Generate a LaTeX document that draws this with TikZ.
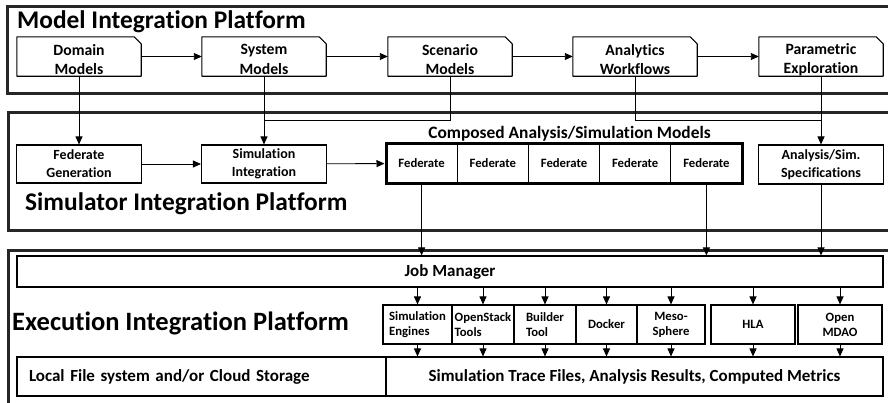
\documentclass[tikz,border=0pt]{standalone}
\usepackage{fontspec}
\setmainfont{Carlito}[Ligatures=NoCommon]
\usetikzlibrary{arrows.meta}
\begin{document}
\begin{tikzpicture}[x=1pt,y=-1pt,
  platform/.style={draw=black!85, line width=3pt, anchor=north west, inner sep=0pt},
  title/.style={font=\bfseries\fontsize{25.4}{28}\selectfont, inner sep=0pt, anchor=base west},
  mbox/.style={minimum width=124pt, minimum height=39pt, inner sep=0pt},
  mtext/.style={inner sep=0pt, align=center, font=\bfseries\fontsize{15.7}{19.5}\selectfont},
  sbox/.style={draw, line width=1.1pt, minimum width=125pt, minimum height=38pt, inner sep=1pt,
    align=center, font=\bfseries\fontsize{14}{18}\selectfont},
  cell/.style={draw, line width=1pt, minimum width=71.2pt, minimum height=40pt, inner sep=1pt,
    font=\bfseries\fontsize{12.7}{15}\selectfont},
  tool/.style={draw, line width=1.1pt, minimum height=39pt, inner sep=1pt,
    font=\bfseries\fontsize{12.7}{15}\selectfont},
  wide/.style={draw, line width=1.1pt, inner sep=1pt, font=\bfseries\fontsize{17}{19}\selectfont},
  conn/.style={line width=0.9pt},
  arr/.style={conn, -{Triangle[length=8pt,width=7pt]}}
]
\useasboundingbox (0,0) rectangle (888,402);
\clip (0,0) rectangle (888,402);

% platforms
\node[platform, minimum width=900pt, minimum height=87pt] (mip) at (6,5) {};
\node[platform, minimum width=900pt, minimum height=118pt] (sip) at (7,111) {};
\node[platform, minimum width=900pt, minimum height=171pt] (eip) at (7,249) {};

\node[title] (mipt) at (17,28) {Model Integration Platform};
\node[title] (sipt) at (25,210) {Simulator Integration Platform};
\node[title, font=\bfseries\fontsize{26.5}{28}\selectfont] (eipt) at (12,330) {Execution Integration Platform};

% model boxes
\node[mbox] (dom) at (79,56.5) {};
\node[mbox] (sys) at (264,56.5) {};
\node[mbox] (scn) at (450,56.5) {};
\node[mbox] (ana) at (635,56.5) {};
\node[mbox] (par) at (821,56.5) {};
\foreach \n in {dom,sys,scn,ana,par}
  \draw[line width=1.1pt, line join=round] (\n.north west) -- ([xshift=-7pt]\n.north east)
    -- ([yshift=-7pt]\n.north east) -- (\n.south east) -- (\n.south west) -- cycle;
\node[mtext] (domt) at ([yshift=-3pt]dom.center) {Domain\\Models};
\node[mtext] (syst) at ([yshift=-3pt]sys.center) {System\\Models};
\node[mtext] (scnt) at ([yshift=-3pt]scn.center) {Scenario\\Models};
\node[mtext] (anat) at ([yshift=-3pt]ana.center) {Analytics\\Workflows};
\node[mtext] (part) at ([yshift=-3pt]par.center) {Parametric\\Exploration};

\draw[arr] (dom) -- (sys);
\draw[arr] (sys) -- (scn);
\draw[arr] (scn) -- (ana);
\draw[arr] (ana) -- (par);

% simulator
\node[sbox] (fedgen) at (79,164) {Federate\\Generation};
\node[sbox] (simint) at (264,164) {Simulation\\Integration};
\node[sbox, minimum height=39pt] (spec) at (821,164.5) {Analysis/Sim.\\Specifications};

\node[cell] (f1) at (421.6,163) {Federate};
\node[cell] (f2) at (492.8,163) {Federate};
\node[cell] (f3) at (564,163) {Federate};
\node[cell] (f4) at (635.2,163) {Federate};
\node[cell] (f5) at (706.4,163) {Federate};
\node[draw, line width=3pt, minimum width=356pt, minimum height=40pt, inner sep=0pt] (comp) at (564,163) {};
\node[font=\bfseries\fontsize{17.4}{18}\selectfont, inner sep=0pt, anchor=base] (compl) at (569.5,138) {Composed Analysis/Simulation Models};

\coordinate (j1) at (264,120);
\coordinate (j2) at (821,120);
\draw[arr] (dom.south) -- (fedgen.north);
\draw[arr] (sys.south) -- (simint.north);
\draw[conn] (scn.south) |- (j1);
\draw[conn] (ana.south) |- (j2);
\draw[arr] (par.south) -- (spec.north);
\draw[arr] (fedgen) -- (simint);
\draw[arr] (simint) -- (comp);

% execution
\node[wide, minimum width=866pt, minimum height=31pt] (jm) at (450,271.5) {Job Manager};
\node[tool, minimum width=69pt, align=left] (seng) at (417.5,324.5) {Simulation\\Engines};
\node[tool, minimum width=62pt, align=left] (ostk) at (483,324.5) {OpenStack\\Tools};
\node[tool, minimum width=62pt, align=left] (bldr) at (545,324.5) {Builder\\Tool};
\node[tool, minimum width=61pt] (dock) at (606.5,324.5) {Docker};
\node[tool, minimum width=68pt, align=center] (meso) at (671,324.5) {Meso-\\Sphere};
\node[tool, minimum width=84pt] (hla) at (753,324.5) {HLA};
\node[tool, minimum width=84pt, align=center] (mdao) at (840,324.5) {Open\\MDAO};
\node[wide, minimum width=369pt, minimum height=39pt, text width=345pt, inner xsep=12pt, align=left] (local) at (201.5,376.5) {Local File system and/or Cloud Storage};
\node[wide, minimum width=497pt, minimum height=39pt] (trace) at (634.5,376.5) {Simulation Trace Files, Analysis Results, Computed Metrics};

\draw[arr] (f1.south) -- (f1.south |- jm.north);
\draw[arr] (f5.south) -- (f5.south |- jm.north);
\draw[arr] (spec.south) -- (spec.south |- jm.north);

\foreach \t in {seng,ostk,bldr,dock,meso,hla,mdao}{
  \draw[arr] (\t.north |- jm.south) -- (\t.north);
  \draw[arr] (\t.south) -- (\t.south |- trace.north);
}
\end{tikzpicture}
\end{document}
